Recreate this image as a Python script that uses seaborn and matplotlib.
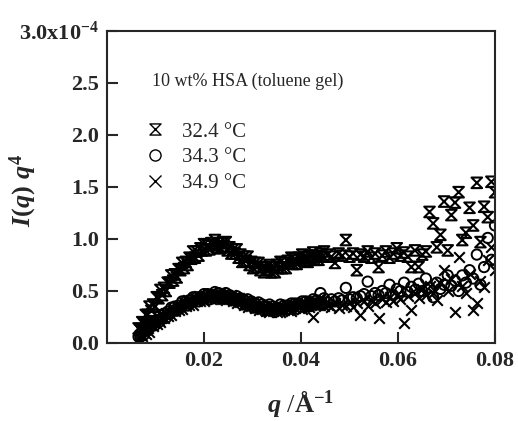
import numpy as np
import matplotlib
matplotlib.use("Agg")
import matplotlib.pyplot as plt
from matplotlib.path import Path
from matplotlib.lines import Line2D
import seaborn as sns

# q grid (1/Angstrom), shared by all three temperatures
q = [0.006500, 0.006875, 0.007250, 0.007625, 0.008000, 0.008375, 0.008750, 0.009125, 0.009500, 0.009875,
     0.010250, 0.010625, 0.011000, 0.011375, 0.011750, 0.012125, 0.012500, 0.012875, 0.013250, 0.013625,
     0.014000, 0.014375, 0.014750, 0.015125, 0.015500, 0.015875, 0.016250, 0.016625, 0.017000, 0.017375,
     0.017750, 0.018125, 0.018500, 0.018875, 0.019250, 0.019625, 0.020000, 0.020375, 0.020750, 0.021125,
     0.021500, 0.021875, 0.022250, 0.022625, 0.023000, 0.023375, 0.023750, 0.024125, 0.024500, 0.024875,
     0.025250, 0.025625, 0.026000, 0.026375, 0.026750, 0.027125, 0.027500, 0.027875, 0.028250, 0.028625,
     0.029000, 0.029375, 0.029750, 0.030125, 0.030500, 0.030875, 0.031250, 0.031625, 0.032000, 0.032375,
     0.032750, 0.033125, 0.033500, 0.033875, 0.034250, 0.034625, 0.035000, 0.035375, 0.035750, 0.036125,
     0.036500, 0.036875, 0.037250, 0.037625, 0.038000, 0.038375, 0.038750, 0.039125, 0.039500, 0.039875,
     0.040250, 0.040625, 0.041000, 0.041375, 0.041750, 0.042125, 0.042500, 0.042875, 0.043250, 0.043625,
     0.044000, 0.044375, 0.044750,
     0.04550, 0.04625, 0.04700, 0.04775, 0.04850, 0.04925, 0.05000, 0.05075,
     0.05150, 0.05225, 0.05300, 0.05375, 0.05450, 0.05525, 0.05600, 0.05675, 0.05750, 0.05825,
     0.05900, 0.05975, 0.06050, 0.06125, 0.06200, 0.06275, 0.06350, 0.06425, 0.06500, 0.06575,
     0.06650, 0.06725, 0.06800, 0.06875, 0.06950, 0.07025, 0.07100, 0.07175, 0.07250, 0.07325,
     0.07400, 0.07475, 0.07550, 0.07625, 0.07700, 0.07775, 0.07850, 0.07925, 0.08000]

# I(q) q^4 in units of 1e-4
iq4_324 = [0.14, 0.125, 0.20, 0.18, 0.27, 0.27, 0.35, 0.31, 0.37, 0.35,
           0.44, 0.43, 0.51, 0.46, 0.53, 0.50, 0.58, 0.58, 0.65, 0.60,
           0.66, 0.63, 0.71, 0.70, 0.77, 0.72, 0.78, 0.75, 0.82, 0.81,
           0.88, 0.82, 0.88, 0.84, 0.91, 0.89, 0.95, 0.89, 0.94, 0.90,
           0.96, 0.94, 0.99, 0.92, 0.96, 0.91, 0.96, 0.93, 0.97, 0.89,
           0.92, 0.86, 0.90, 0.86, 0.90, 0.82, 0.85, 0.78, 0.83, 0.79,
           0.83, 0.75, 0.78, 0.72, 0.77, 0.73, 0.77, 0.70, 0.73, 0.68,
           0.73, 0.70, 0.75, 0.68, 0.73, 0.68, 0.75, 0.72, 0.78, 0.72,
           0.77, 0.72, 0.79, 0.77, 0.82, 0.76, 0.81, 0.76, 0.82, 0.80,
           0.85, 0.79, 0.83, 0.78, 0.84, 0.82, 0.87, 0.80, 0.84, 0.80,
           0.86, 0.83, 0.88,
           0.85, 0.83, 0.77, 0.86, 0.84, 0.99, 0.83, 0.86,
           0.70, 0.85, 0.83, 0.88, 0.82, 0.86, 0.73, 0.84, 0.88, 0.82,
           0.86, 0.91, 0.84, 0.87, 0.83, 0.73, 0.89, 0.73, 0.85, 0.88,
           1.26, 1.15, 0.92, 1.04, 1.36, 0.89, 1.23, 1.35, 1.45, 0.99,
           1.06, 1.30, 1.13, 1.54, 0.97, 1.31, 1.21, 1.55, 1.45]

iq4_343 = [0.06, 0.06, 0.11, 0.08, 0.13, 0.12, 0.18, 0.16, 0.20, 0.17,
           0.22, 0.20, 0.27, 0.24, 0.28, 0.24, 0.30, 0.28, 0.34, 0.31,
           0.35, 0.31, 0.36, 0.34, 0.40, 0.37, 0.40, 0.36, 0.41, 0.39,
           0.44, 0.41, 0.44, 0.40, 0.44, 0.42, 0.47, 0.43, 0.47, 0.42,
           0.46, 0.43, 0.49, 0.45, 0.48, 0.43, 0.46, 0.43, 0.48, 0.43,
           0.46, 0.41, 0.44, 0.41, 0.45, 0.41, 0.43, 0.37, 0.41, 0.37,
           0.42, 0.37, 0.40, 0.34, 0.38, 0.34, 0.39, 0.34, 0.37, 0.31,
           0.35, 0.32, 0.37, 0.32, 0.35, 0.30, 0.34, 0.32, 0.37, 0.33,
           0.36, 0.32, 0.36, 0.33, 0.38, 0.35, 0.38, 0.33, 0.38, 0.35,
           0.40, 0.36, 0.40, 0.35, 0.39, 0.36, 0.42, 0.38, 0.41, 0.37,
           0.48, 0.38, 0.43,
           0.39, 0.42, 0.40, 0.43, 0.41, 0.53, 0.42, 0.44,
           0.43, 0.45, 0.47, 0.59, 0.45, 0.48, 0.46, 0.50, 0.48, 0.56,
           0.46, 0.52, 0.50, 0.58, 0.49, 0.54, 0.51, 0.57, 0.50, 0.62,
           0.53, 0.44, 0.58, 0.52, 0.56, 0.65, 0.55, 0.60, 0.50, 0.65,
           0.58, 0.70, 0.62, 0.85, 0.56, 0.73, 1.01, 0.80, 1.13]

iq4_349 = [0.04, 0.08, 0.07, 0.13, 0.09, 0.14, 0.11, 0.18, 0.16, 0.22,
           0.18, 0.22, 0.20, 0.26, 0.24, 0.29, 0.26, 0.30, 0.27, 0.33,
           0.31, 0.36, 0.32, 0.36, 0.33, 0.39, 0.36, 0.41, 0.37, 0.41,
           0.37, 0.43, 0.40, 0.45, 0.40, 0.44, 0.40, 0.45, 0.43, 0.47,
           0.42, 0.45, 0.42, 0.47, 0.44, 0.48, 0.42, 0.45, 0.41, 0.45,
           0.42, 0.46, 0.40, 0.43, 0.38, 0.43, 0.39, 0.42, 0.37, 0.39,
           0.35, 0.39, 0.36, 0.39, 0.34, 0.36, 0.32, 0.36, 0.33, 0.36,
           0.31, 0.34, 0.30, 0.34, 0.31, 0.35, 0.30, 0.34, 0.30, 0.35,
           0.32, 0.37, 0.32, 0.35, 0.31, 0.37, 0.34, 0.38, 0.34, 0.37,
           0.33, 0.38, 0.36, 0.40, 0.35, 0.38, 0.25, 0.40, 0.37, 0.42,
           0.37, 0.40, 0.36,
           0.37, 0.35, 0.38, 0.34, 0.37, 0.36, 0.39, 0.35,
           0.38, 0.27, 0.40, 0.36, 0.41, 0.38, 0.24, 0.42, 0.39, 0.44,
           0.40, 0.46, 0.42, 0.19, 0.45, 0.32, 0.48, 0.43, 0.52, 0.46,
           0.55, 0.48, 0.41, 0.58, 0.70, 0.50, 0.62, 0.30, 0.83, 0.55,
           0.48, 0.66, 0.32, 0.38, 0.60, 0.54, 0.80, 0.92, 0.70]

labels = ["32.4 \u00b0C", "34.3 \u00b0C", "34.9 \u00b0C"]
y_ticks = [0.0, 0.5, 1.0, 1.5, 2.0, 2.5, 3.0]
y_ticklabels = ["0.0", "0.5", "1.0", "1.5", "2.0", "2.5", r"3.0x10$^{-4}$"]
x_ticks = [0.02, 0.04, 0.06, 0.08]
x_ticklabels = ["0.02", "0.04", "0.06", "0.08"]

# hourglass marker: two triangles meeting at their tips
hourglass = Path([(-1, 1), (1, 1), (-1, -1), (1, -1), (-1, 1)],
                 [Path.MOVETO, Path.LINETO, Path.LINETO, Path.LINETO, Path.CLOSEPOLY])

sns.set_style("ticks")
plt.rcParams["font.family"] = ["Liberation Serif", "DejaVu Serif"]
plt.rcParams["mathtext.fontset"] = "custom"
plt.rcParams["mathtext.rm"] = "Liberation Serif:bold"
plt.rcParams["mathtext.it"] = "Liberation Serif:italic:bold"
plt.rcParams["mathtext.bf"] = "Liberation Serif:bold"

fig = plt.figure(figsize=(5.18, 4.21), dpi=100)
ax = fig.add_axes([0.2066, 0.1853, 0.749, 0.7411])

sns.scatterplot(x=q, y=iq4_324, marker=hourglass, s=58, facecolor="none",
                edgecolor="black", linewidth=1.5, ax=ax)
sns.scatterplot(x=q, y=iq4_343, marker="o", s=55, facecolor="none",
                edgecolor="black", linewidth=1.4, ax=ax)
sns.scatterplot(x=q, y=iq4_349, marker="x", s=58, color="black",
                linewidth=1.5, ax=ax)

ax.set_xlim(0, 0.08)
ax.set_ylim(0, 3.0)
ax.set_xticks(x_ticks)
ax.set_xticklabels(x_ticklabels)
ax.set_yticks(y_ticks)
ax.set_yticklabels(y_ticklabels)
ax.tick_params(direction="in", length=8, width=1.5, labelsize=16, pad=6)
for lab in ax.get_xticklabels() + ax.get_yticklabels():
    lab.set_fontweight("bold")
for sp in ax.spines.values():
    sp.set_linewidth(1.5)
    sp.set_visible(True)

ax.set_xlabel(r"$q$ /$\mathrm{\AA}^{-1}$", fontsize=19)
ax.xaxis.set_label_coords(0.5, -0.145)
ax.set_ylabel(r"$I(q)\ q^{4}$", fontsize=19)
ax.yaxis.set_label_coords(-0.175, 0.49)

ax.text(0.116, 0.84, "10 wt% HSA (toluene gel)", transform=ax.transAxes,
        fontsize=13, va="center", ha="left")

handles = [
    Line2D([], [], marker=hourglass, ls="none", mfc="none", mec="black", ms=8, mew=1.0),
    Line2D([], [], marker="o", ls="none", mfc="none", mec="black", ms=8, mew=1.0),
    Line2D([], [], marker="x", ls="none", color="black", ms=8, mew=1.0),
]
ax.legend(handles, labels, loc="upper left", bbox_to_anchor=(0.07, 0.735),
          frameon=False, fontsize=15, handlelength=1.2, handletextpad=0.7,
          labelspacing=0.3, borderaxespad=0)

fig.savefig("out.png", dpi=100)
